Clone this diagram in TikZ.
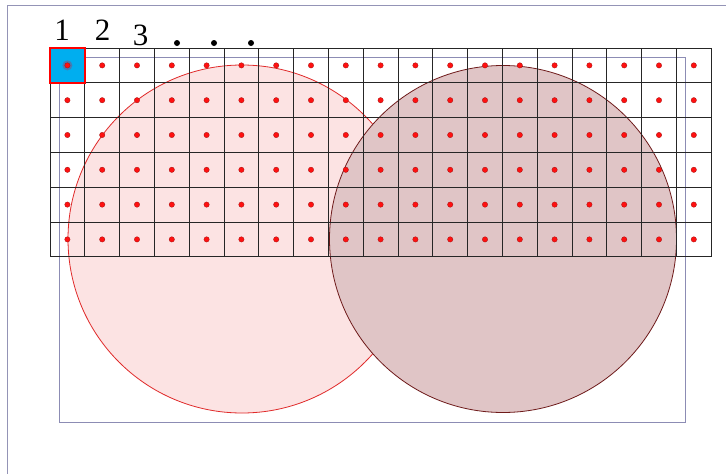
\documentclass[tikz,border=0pt]{standalone}
\usepackage{fontspec}
\newfontfamily\labelfont{Liberation Serif}
\definecolor{framec}{HTML}{9494B6}
\definecolor{rectc}{HTML}{8C8CB4}
\definecolor{pinkfill}{HTML}{FCE3E3}
\definecolor{pinkline}{HTML}{E02A2A}
\definecolor{roseFill}{HTML}{E0C5C6}
\definecolor{roseLine}{HTML}{6E1A1A}
\definecolor{cellblue}{HTML}{00AEEF}
\definecolor{dotred}{HTML}{FF1010}
\definecolor{dotedge}{HTML}{A01010}
\tikzset{
  framestyle/.style={draw=framec, line width=0.9pt},
  rectstyle/.style={draw=rectc, line width=0.9pt},
  gridline/.style={draw=black!85, line width=0.8pt},
  circA/.style={fill=pinkfill, draw=pinkline, line width=0.8pt},
  circB/.style={fill=roseFill, draw=roseLine, line width=0.8pt},
  reddot/.style={fill=dotred, draw=dotedge, line width=0.3pt},
  numlabel/.style={inner sep=0pt, font=\labelfont\fontsize{31}{36}\selectfont},
  dotlabel/.style={fill=black, inner sep=0pt, minimum size=6pt, circle}
}
\begin{document}
\begin{tikzpicture}[x=1pt,y=-1pt]
\useasboundingbox (0,0) rectangle (726,474);
\fill[white] (0,0) rectangle (726,474);
% outer frame
\draw[framestyle] (7,474) -- (7,5) -- (726,5);
% circles
\path[circA] (242,239) circle[radius=174pt];
\path[circB] (503,239) circle[radius=173.5pt];
% inner rectangle
\draw[rectstyle] (59,57) rectangle (685,422);
% grid
\foreach \i in {0,...,19}
  \draw[gridline] ({50+\i*34.8},48) -- ({50+\i*34.8},256.8);
\foreach \j in {0,...,6}
  \draw[gridline] (50,{48+\j*34.8}) -- (711.2,{48+\j*34.8});
% highlighted first cell
\filldraw[fill=cellblue, draw=red, line width=2pt] (50,48) rectangle (84.8,82.8);
\fill[gray!80!blue, opacity=0.7] (67.4,65.4) circle[radius=5pt];
% dots
\foreach \i in {0,...,18}
  \foreach \j in {0,...,5}
    \path[reddot] ({67.4+\i*34.8},{65.4+\j*34.8}) circle[radius=2.7pt];
% labels
\node[numlabel] (l1) at (62,30.5) {1};
\node[numlabel] (l2) at (102.5,30.5) {2};
\node[numlabel] (l3) at (140.5,35.5) {3};
\node[dotlabel] (d1) at (177,43) {};
\node[dotlabel] (d2) at (214,43) {};
\node[dotlabel] (d3) at (251,43) {};
\end{tikzpicture}
\end{document}
